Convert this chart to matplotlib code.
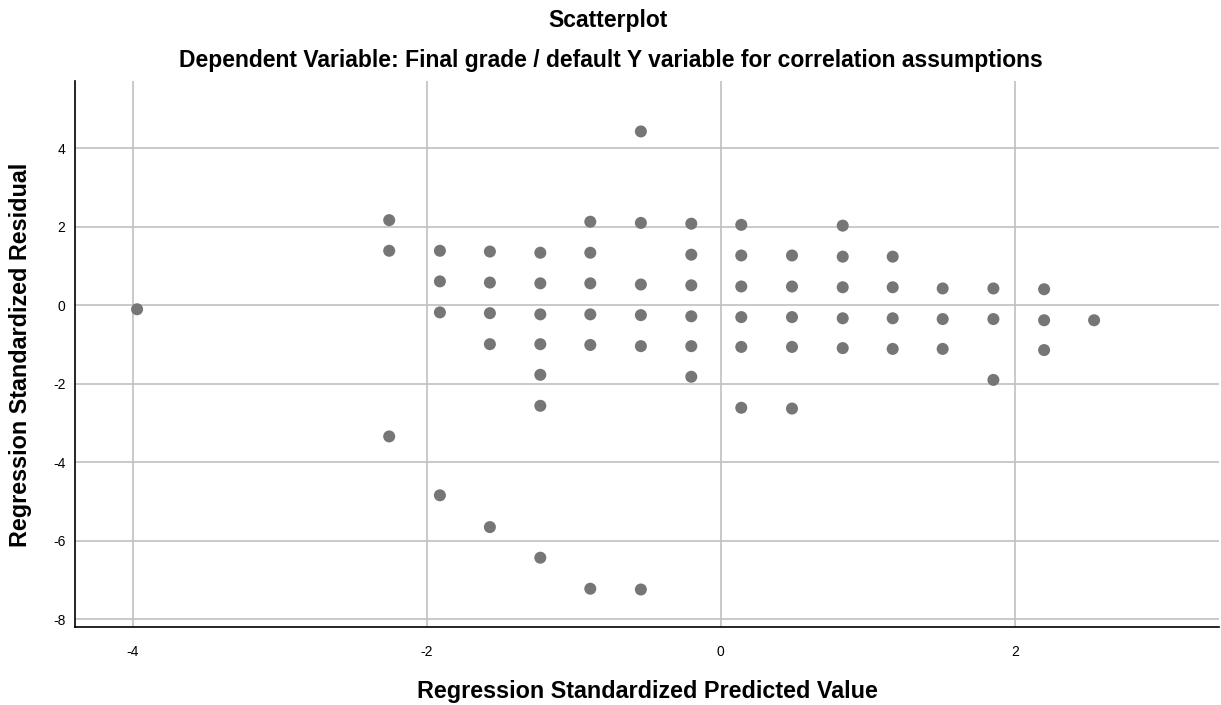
#Regression residual scatterplot
import numpy as np
import matplotlib.pyplot as plt

plt.rcParams['font.family'] = ['Liberation Sans', 'DejaVu Sans']
plt.rcParams['axes.unicode_minus'] = False

#predicted value columns and the residuals seen in each
pred = [-3.97, -2.255, -1.91, -1.57, -1.227, -0.887, -0.543, -0.20,
        0.14, 0.485, 0.83, 1.17, 1.51, 1.855, 2.20, 2.54]
resid = [
    [-0.10],
    [2.17, 1.39, -3.34],
    [1.39, 0.61, -0.18, -4.84],
    [1.37, 0.58, -0.20, -0.99, -5.65],
    [1.34, 0.56, -0.23, -0.99, -1.77, -2.56, -6.43],
    [2.13, 1.34, 0.56, -0.23, -1.01, -7.22],
    [4.43, 2.10, 0.53, -0.25, -1.04, -7.24],
    [2.08, 1.29, 0.51, -0.28, -1.04, -1.82],
    [2.05, 1.27, 0.48, -0.30, -1.06, -2.61],
    [1.27, 0.48, -0.30, -1.06, -2.63],
    [2.03, 1.24, 0.46, -0.33, -1.09],
    [1.24, 0.46, -0.33, -1.11],
    [0.43, -0.35, -1.11],
    [0.43, -0.35, -1.90],
    [0.41, -0.38, -1.14],
    [-0.38],
]

xs = []
ys = []
for p, r in zip(pred, resid):
    xs += [p]*len(r)
    ys += r

fig = plt.figure(figsize=(12.21, 7.05), dpi=100)
ax = fig.add_axes([0.0617, 0.1106, 0.9367, 0.7745])

ax.scatter(xs, ys, s=75, color='#767676', edgecolors='none', zorder=3)

ax.set_xlim(-4.39, 3.39)
ax.set_ylim(-8.196, 5.715)
ax.set_xticks([-4, -2, 0, 2])
ax.set_yticks([-8, -6, -4, -2, 0, 2, 4])
ax.grid(True, color='#c0c0c0', linewidth=1.2)
ax.set_axisbelow(True)
for s in ['top', 'right']:
    ax.spines[s].set_visible(False)
ax.spines['left'].set_linewidth(1.2)
ax.spines['bottom'].set_linewidth(1.2)
ax.tick_params(length=0, labelsize=10)
ax.tick_params(axis='x', pad=13)
ax.tick_params(axis='y', pad=7)

ax.set_xlabel("Regression Standardized Predicted Value", fontsize=16.8,
              fontweight='bold', va='baseline')
ax.xaxis.set_label_coords(0.53, 0.01, transform=fig.transFigure)
ax.set_ylabel("Regression Standardized Residual", fontsize=16.8,
              fontweight='bold', va='center')
ax.yaxis.set_label_coords(0.0165, 0.497, transform=fig.transFigure)

fig.text(0.498, 0.9617, "Scatterplot", ha='center', va='baseline',
         fontsize=16.5, fontweight='bold')
fig.text(0.5, 0.905,
         "Dependent Variable: Final grade / default Y variable for correlation assumptions",
         ha='center', va='baseline', fontsize=16.5, fontweight='bold')

plt.savefig("out.png")
plt.close("all")
